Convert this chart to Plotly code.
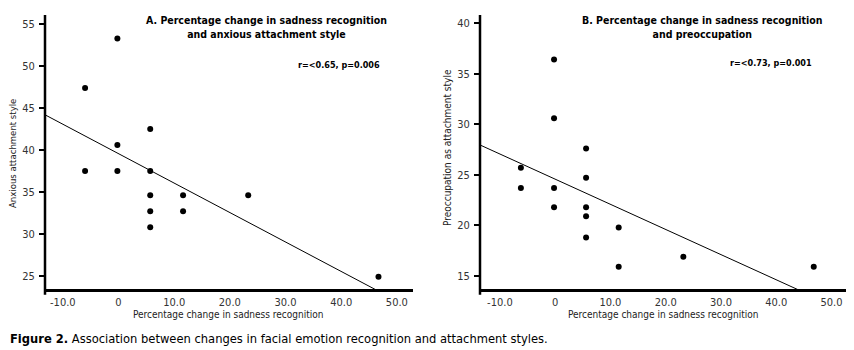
import plotly.graph_objects as go

# ---- data ----
change_a = [-6.0, -0.2, 5.7, -0.2, -6.0, -0.2, 5.7, 5.7, 5.7, 5.7, 11.6, 11.6, 23.3, 46.7]
anxious = [47.4, 53.3, 42.5, 40.6, 37.5, 37.5, 37.5, 34.6, 32.7, 30.8, 34.6, 32.7, 34.6, 24.9]

change_b = [-0.2, -0.2, 5.6, -6.2, -6.2, -0.2, -0.2, 5.6, 5.6, 5.6, 5.6, 11.5, 11.5, 23.2, 46.8]
preocc = [36.4, 30.6, 27.6, 25.7, 23.7, 23.7, 21.8, 24.7, 21.8, 20.9, 18.8, 19.8, 15.9, 16.9, 15.9]

fit_a = {"intercept": 39.57, "slope": -0.351}
fit_b = {"intercept": 24.57, "slope": -0.2486}
fit_x = [-20.0, 60.0]

x_ticks = [-10, 0, 10, 20, 30, 40, 50]
x_ticktext = ["-10.0", "0", "10.0", "20.0", "30.0", "40.0", "50.0"]
y_ticks_a = [25, 30, 35, 40, 45, 50, 55]
y_ticks_b = [15, 20, 25, 30, 35, 40]

title_a = "A. Percentage change in sadness recognition<br>and anxious attachment style"
title_b = "B. Percentage change in sadness recognition<br>and preoccupation"
stat_a = "r=<0.65, p=0.006"
stat_b = "r=<0.73, p=0.001"
xlabel = "Percentage change in sadness recognition"
ylabel_a = "Anxious attachment style"
ylabel_b = "Preoccupation as attachment style"
caption = "<b>Figure 2.</b> Association between changes in facial emotion recognition and attachment styles."

# page body has an 8px margin; figure fills the rest of the 854x350 window
OFF = 8
W, H = 854 - OFF, 350 - OFF
FONT = "DejaVu Sans Condensed, Roboto Condensed, Roboto, sans-serif"

def px(x):
    return (x - OFF) / W

def py(y):
    return (H - (y - OFF)) / H

fig = go.Figure()

fig.add_trace(go.Scatter(x=change_a, y=anxious, mode="markers",
                         marker=dict(color="black", size=6), xaxis="x", yaxis="y",
                         showlegend=False))
fig.add_trace(go.Scatter(x=fit_x, y=[fit_a["intercept"] + fit_a["slope"] * v for v in fit_x],
                         mode="lines", line=dict(color="black", width=1),
                         xaxis="x", yaxis="y", showlegend=False))
fig.add_trace(go.Scatter(x=change_b, y=preocc, mode="markers",
                         marker=dict(color="black", size=6), xaxis="x2", yaxis="y2",
                         showlegend=False))
fig.add_trace(go.Scatter(x=fit_x, y=[fit_b["intercept"] + fit_b["slope"] * v for v in fit_x],
                         mode="lines", line=dict(color="black", width=1),
                         xaxis="x2", yaxis="y2", showlegend=False))

y_dom = [py(289.3), py(15)]
tickfont = dict(family=FONT, size=11, color="#333333")

xcommon = dict(tickmode="array", tickvals=x_ticks, ticktext=x_ticktext,
               showline=True, linecolor="black", linewidth=2.5, ticks="",
               showgrid=False, zeroline=False, tickfont=tickfont,
               ticklabelstandoff=1)
ycommon = dict(tickmode="array", showline=False, ticks="outside", ticklen=5,
               tickwidth=1.5, tickcolor="black", showgrid=False, zeroline=False,
               tickfont=tickfont, ticklabelstandoff=2)

fig.update_layout(
    width=W, height=H, margin=dict(l=0, r=0, t=0, b=0),
    paper_bgcolor="white", plot_bgcolor="white",
    font=dict(family=FONT, color="black"),
    xaxis=dict(domain=[px(45), px(413)], range=[-13.2, 52.9], anchor="y", **xcommon),
    yaxis=dict(domain=y_dom, range=[23.4, 56.1], anchor="x", tickvals=y_ticks_a, **ycommon),
    xaxis2=dict(domain=[px(480), px(848)], range=[-13.6, 53.0], anchor="y2", **xcommon),
    yaxis2=dict(domain=y_dom, range=[13.68, 40.8], anchor="x2", tickvals=y_ticks_b, **ycommon),
)

# y-axis spines extending slightly below the x axis
for xr, yr in (("x domain", "y domain"), ("x2 domain", "y2 domain")):
    fig.add_shape(type="line", xref=xr, yref=yr, x0=0, x1=0, y0=-0.02, y1=1,
                  line=dict(color="black", width=2.5))

def note(text, x, y, size, xanchor="center", angle=0, color="black"):
    return dict(text=text, x=px(x), y=py(y), xref="paper", yref="paper",
                xanchor=xanchor, yanchor="middle", showarrow=False, textangle=angle,
                font=dict(size=size, family=FONT, color=color), align="center")

ann = [
    note("<b>" + title_a + "</b>", 266, 27.5, 10.5),
    note("<b>" + title_b + "</b>", 702, 27.5, 10.5),
    note("<b>" + stat_a + "</b>", 382, 65, 9),
    note("<b>" + stat_b + "</b>", 814, 63, 9, xanchor="right"),
    note(xlabel, 228, 314, 10, color="#222222"),
    note(xlabel, 663, 314, 10, color="#222222"),
    note(ylabel_a, 12, 154, 9.5, angle=-90, color="#222222"),
    note(ylabel_b, 447, 148, 10, angle=-90, color="#222222"),
    note(caption, 8, 338, 12.8, xanchor="left"),
]
ann[2]["xanchor"] = "right"
fig.update_layout(annotations=ann)

fig.write_html("out.html")
